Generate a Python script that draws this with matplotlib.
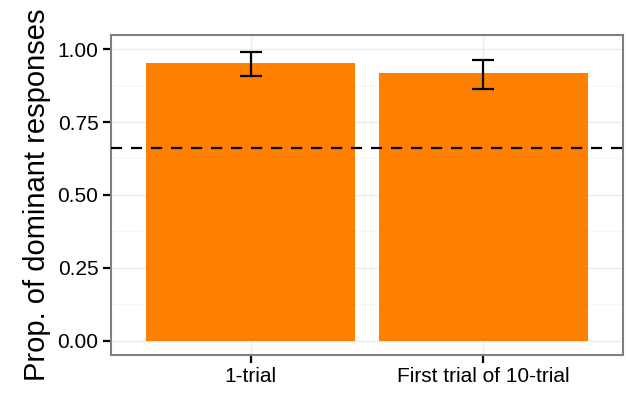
import matplotlib
matplotlib.use("Agg")
import matplotlib.pyplot as plt
from matplotlib.ticker import MultipleLocator

plt.rcParams["font.family"] = ["Liberation Sans", "DejaVu Sans"]

conditions = ["1-trial", "First trial of 10-trial"]
prop_dominant = [0.952, 0.918]
ci_low = [0.908, 0.863]
ci_high = [0.990, 0.962]
chance_level = 0.66

fig = plt.figure(figsize=(6.26, 3.95), dpi=100)
ax = fig.add_axes([0.1773, 0.1013, 0.8179, 0.8101])

x = [1, 2]
ax.bar(x, prop_dominant, width=0.9, color="#ff7f00", zorder=2)
yerr = [[p - lo for p, lo in zip(prop_dominant, ci_low)],
        [hi - p for p, hi in zip(prop_dominant, ci_high)]]
ax.errorbar(x, prop_dominant, yerr=yerr, fmt="none", ecolor="black",
            elinewidth=1.6, capsize=8, capthick=1.6, zorder=3)
ax.axhline(chance_level, color="black", linestyle=(0, (5, 4)), linewidth=1.6, zorder=4)

ax.set_xlim(0.4, 2.6)
ax.set_ylim(-0.048, 1.048)
ax.set_xticks(x)
ax.set_xticklabels(conditions)
ax.yaxis.set_minor_locator(MultipleLocator(0.125))
ax.set_yticks([0, 0.25, 0.5, 0.75, 1.0])
ax.set_yticklabels(["0.00", "0.25", "0.50", "0.75", "1.00"])

ax.grid(which="major", color="#ebebeb", linewidth=1.0, zorder=0)
ax.grid(which="minor", axis="y", color="#f5f5f5", linewidth=0.8, zorder=0)
ax.set_axisbelow(True)

ax.tick_params(axis="both", which="major", length=6, width=1.6, color="black",
               labelsize=15, labelcolor="black", pad=3)
ax.tick_params(axis="y", which="minor", length=0)
for s in ax.spines.values():
    s.set_color("#7f7f7f")
    s.set_linewidth(1.5)

ax.set_ylabel("Prop. of dominant responses", fontsize=21, labelpad=5)

fig.savefig("out.png", dpi=100)
